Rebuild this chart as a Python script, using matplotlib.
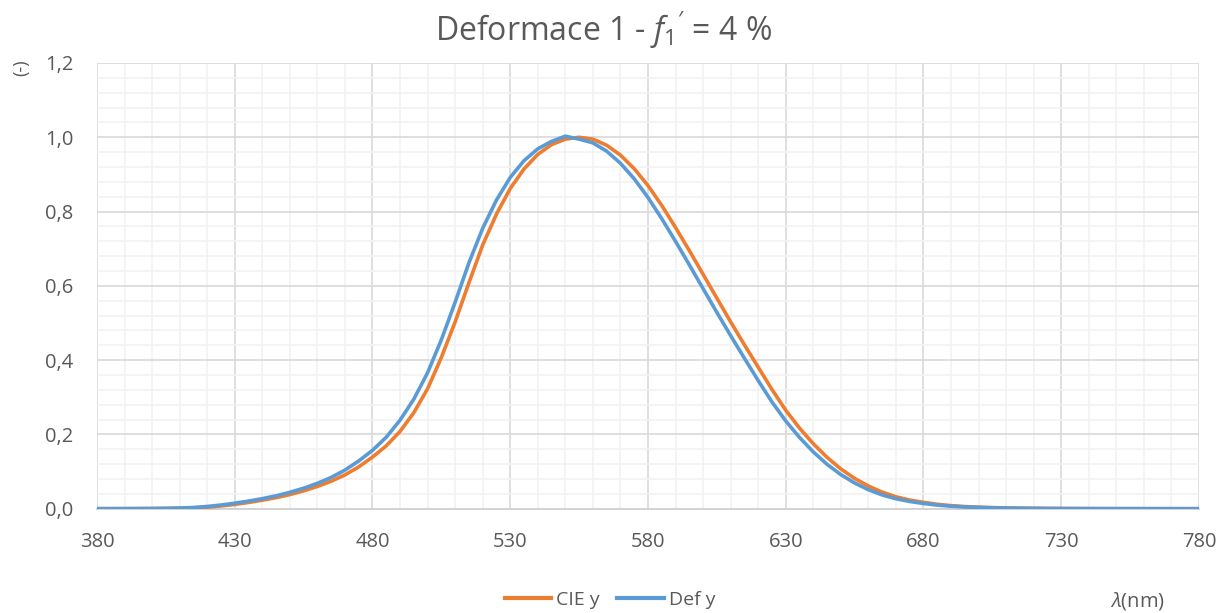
import numpy as np
import matplotlib
matplotlib.use("Agg")
import matplotlib.pyplot as plt
from matplotlib.ticker import MultipleLocator, FuncFormatter, FixedLocator
from matplotlib.lines import Line2D

plt.rcParams['font.family'] = ['Open Sans', 'DejaVu Sans']
plt.rcParams['mathtext.fontset'] = 'custom'
plt.rcParams['mathtext.rm'] = 'Open Sans'
plt.rcParams['mathtext.it'] = 'Open Sans:italic'

# wavelengths 380..780 nm, step 5
wl = list(range(380, 781, 5))

cie_y = [0.000039, 0.000064, 0.00012, 0.000217, 0.000396, 0.00064, 0.00121, 0.00218,
         0.004, 0.0073, 0.0116, 0.01684, 0.023, 0.0298, 0.038, 0.048,
         0.06, 0.0739, 0.09098, 0.1126, 0.13902, 0.1693, 0.20802, 0.2586,
         0.323, 0.4073, 0.503, 0.6082, 0.71, 0.7932, 0.862, 0.91485,
         0.954, 0.9803, 0.99495, 1.0, 0.995, 0.9786, 0.952, 0.9154,
         0.87, 0.8163, 0.757, 0.6949, 0.631, 0.5668, 0.503, 0.4412,
         0.381, 0.321, 0.265, 0.217, 0.175, 0.1382, 0.107, 0.0816,
         0.061, 0.04458, 0.032, 0.0232, 0.017, 0.01192, 0.00821, 0.005723,
         0.004102, 0.002929, 0.002091, 0.001484, 0.001047, 0.00074, 0.00052, 0.000361,
         0.000249, 0.000172, 0.00012, 0.0000848, 0.00006, 0.0000424, 0.00003, 0.0000212,
         0.000015]

def_y = [0.000054, 0.0001, 0.00018, 0.00032, 0.00054, 0.00098, 0.00179, 0.00327,
         0.00598, 0.00988, 0.01474, 0.02054, 0.02708, 0.03472, 0.044, 0.0552,
         0.06834, 0.08415, 0.10395, 0.12845, 0.15719, 0.19253, 0.23837, 0.2950,
         0.366, 0.455, 0.556, 0.662, 0.755, 0.831, 0.892, 0.937,
         0.969, 0.989, 1.003, 0.995, 0.985, 0.9626, 0.93004, 0.88816,
         0.83778, 0.78072, 0.71974, 0.65656, 0.59248, 0.52852, 0.46592, 0.405,
         0.345, 0.2874, 0.2362, 0.1918, 0.15292, 0.11948, 0.09176, 0.0692,
         0.05115, 0.03703, 0.02672, 0.01948, 0.01395, 0.00969, 0.00672, 0.00475,
         0.0034, 0.00243, 0.00173, 0.00122, 0.00086, 0.00061, 0.00042, 0.00029,
         0.0002, 0.00014, 0.0001, 0.00007, 0.00005, 0.000035, 0.000025, 0.000018,
         0.000012]

x_ticks = list(range(380, 781, 50))

orange = '#ED7D31'
blue = '#5B9BD5'
txt = '#595959'

fig = plt.figure(figsize=(12.19, 6.13), dpi=100)
ax = fig.add_axes([97 / 1219, 1 - 508.7 / 613, (1199 - 97) / 1219, (508.7 - 63) / 613])

ax.plot(wl, cie_y, color=orange, lw=2.6, solid_capstyle='round', zorder=3)
ax.plot(wl, def_y, color=blue, lw=2.6, solid_capstyle='round', zorder=4)

ax.set_xlim(380, 780)
ax.set_ylim(0, 1.2)
ax.xaxis.set_major_locator(FixedLocator(x_ticks))
ax.xaxis.set_minor_locator(FixedLocator(list(range(380, 781, 10))))
ax.yaxis.set_major_locator(MultipleLocator(0.2))
ax.yaxis.set_minor_locator(MultipleLocator(0.04))
ax.yaxis.set_major_formatter(FuncFormatter(lambda v, p: f'{v:.1f}'.replace('.', ',')))

ax.grid(which='major', color='#D9D9D9', lw=1.2, zorder=1)
ax.grid(which='minor', color='#F2F2F2', lw=1.2, zorder=0)
ax.set_axisbelow(True)
for s in ['top', 'right', 'left']:
    ax.spines[s].set_visible(False)
ax.spines['bottom'].set_color('#D0D0D0')
ax.spines['bottom'].set_linewidth(1.3)

ax.tick_params(which='both', length=0)
ax.tick_params(axis='y', pad=17, labelsize=14.5, labelcolor=txt)
ax.tick_params(axis='x', pad=17, labelsize=14.5, labelcolor=txt)

fig.text(603 / 1219, 1 - 30 / 613, r"Deformace 1 - $f_{\mathit{1}}{}'$ = 4 %", ha='center', va='center',
         fontsize=23, color=txt)
fig.text(21 / 1219, 1 - 68 / 613, '(-)', rotation=90, ha='center', va='center',
         fontsize=13, color=txt)
fig.text(1138 / 1219, 1 - 601 / 613, r'$\lambda$(nm)', ha='center', va='center',
         fontsize=14.5, color=txt)

handles = [Line2D([], [], color=orange, lw=3), Line2D([], [], color=blue, lw=3)]
fig.legend(handles, ['CIE y', 'Def y'], loc='center', bbox_to_anchor=(610 / 1219, 1 - 600 / 613),
           ncol=2, frameon=False, fontsize=14, labelcolor=txt, handlelength=2.4,
           handletextpad=0.25, columnspacing=0.9)

fig.savefig('out.png', dpi=100)
